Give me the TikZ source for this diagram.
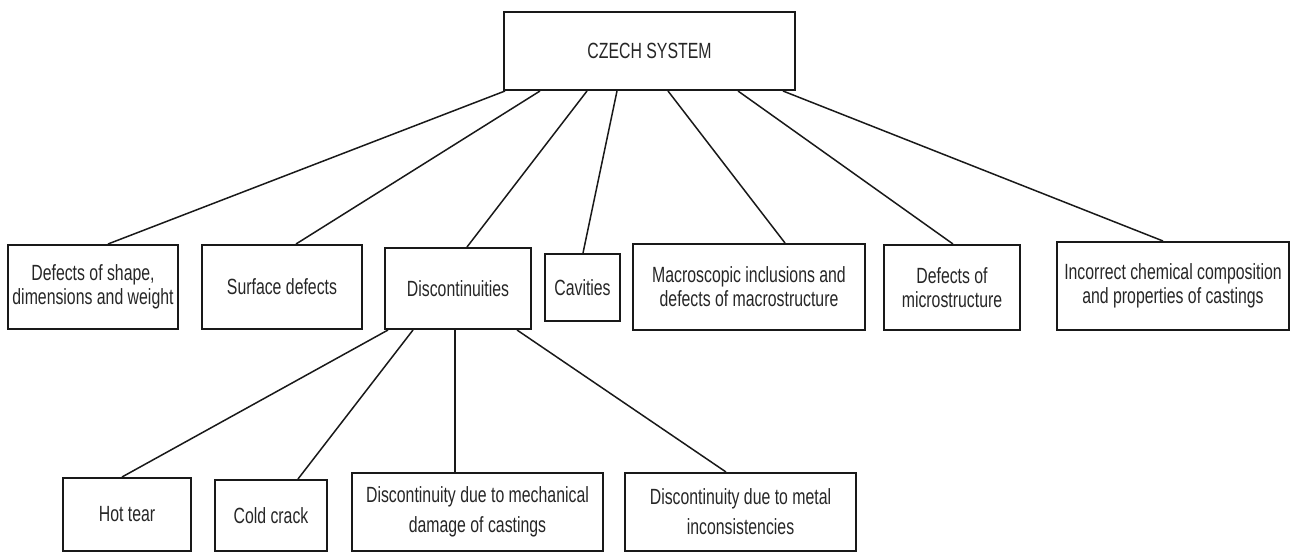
\documentclass[tikz,border=0pt]{standalone}
\usepackage{fontspec}
\setmainfont{Liberation Sans}[FakeStretch=0.72]
\begin{document}
\begin{tikzpicture}[x=1pt,y=-1pt,
  box/.style={draw=black!90, line width=2pt, inner sep=0pt, anchor=north west,
    align=center, text=black!85, font=\fontsize{22}{24}\selectfont},
  lowbox/.style={box, font=\fontsize{22}{30}\selectfont},
  link/.style={draw=black!90, line width=1.5pt}]
\useasboundingbox (0,0) rectangle (1291,552);
% top
\node[box, minimum width=291pt, minimum height=78pt] (top) at (503,11) {CZECH SYSTEM};
% second row
\node[box, minimum width=170pt, minimum height=84pt] (shape) at (7,244) {Defects of shape,\\dimensions and weight};
\node[box, minimum width=160pt, minimum height=84pt] (surface) at (201,244) {Surface defects};
\node[box, minimum width=146pt, minimum height=81pt] (disc) at (384,247) {Discontinuities};
\node[box, minimum width=75pt, minimum height=67pt] (cav) at (544,253) {Cavities};
\node[box, minimum width=232pt, minimum height=86pt] (macro) at (632,243) {Macroscopic inclusions and\\defects of macrostructure};
\node[box, minimum width=136pt, minimum height=85pt] (micro) at (883,244) {Defects of\\microstructure};
\node[box, minimum width=232pt, minimum height=88pt] (chem) at (1056,241) {Incorrect chemical composition\\and properties of castings};
% third row
\node[lowbox, minimum width=128pt, minimum height=73pt] (hot) at (62,477) {Hot tear};
\node[lowbox, minimum width=112pt, minimum height=71pt] (cold) at (214,479) {Cold crack};
\node[lowbox, minimum width=251pt, minimum height=78pt] (mech) at (351,472) {Discontinuity due to mechanical\\damage of castings};
\node[lowbox, minimum width=231pt, minimum height=78pt] (metal) at (624,472) {Discontinuity due to metal\\inconsistencies};
% connectors from top
\draw[link] ([xshift=2pt]top.south west) -- ([xshift=101pt]shape.north west);
\draw[link] ([xshift=37pt]top.south west) -- ([xshift=95pt]surface.north west);
\draw[link] ([xshift=84pt]top.south west) -- ([xshift=83pt]disc.north west);
\draw[link] ([xshift=114pt]top.south west) -- ([xshift=39pt]cav.north west);
\draw[link] ([xshift=165pt]top.south west) -- ([xshift=153pt]macro.north west);
\draw[link] ([xshift=235pt]top.south west) -- ([xshift=70pt]micro.north west);
\draw[link] ([xshift=280pt]top.south west) -- ([xshift=107pt]chem.north west);
% connectors from discontinuities
\draw[link] ([xshift=4pt]disc.south west) -- ([xshift=60pt]hot.north west);
\draw[link] ([xshift=29pt]disc.south west) -- ([xshift=84pt]cold.north west);
\draw[link] ([xshift=71pt]disc.south west) -- ([xshift=104pt]mech.north west);
\draw[link] ([xshift=133pt]disc.south west) -- ([xshift=102pt]metal.north west);
\end{tikzpicture}
\end{document}
